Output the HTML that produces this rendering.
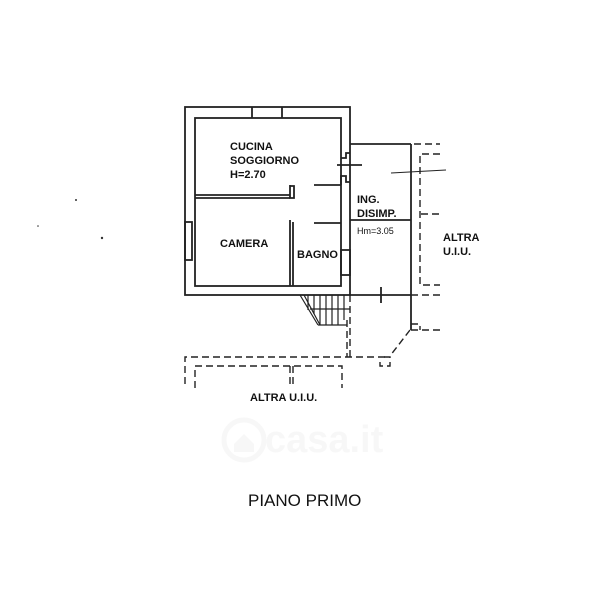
<!DOCTYPE html>
<html><head><meta charset="utf-8"><style>
html,body{margin:0;padding:0;background:#fff;}
svg{display:block}
text{font-family:"Liberation Sans",sans-serif;fill:#111}
</style></head><body>
<svg width="616" height="600" viewBox="0 0 616 600" xmlns="http://www.w3.org/2000/svg">
<rect width="616" height="600" fill="#fff"/>
<g stroke="#222" fill="none" stroke-width="1.8">
<rect x="185" y="107" width="165" height="188"/>
<rect x="195" y="118" width="146" height="168"/>
<line x1="252" y1="107" x2="252" y2="118"/><line x1="282" y1="107" x2="282" y2="118"/>
<rect x="185" y="222" width="7" height="38"/>
<rect x="341" y="250" width="9" height="25"/>
<line x1="195" y1="195" x2="290" y2="195"/><line x1="195" y1="198" x2="290" y2="198"/>
<polyline points="290,185 290,198 294,198 294,186 290,186"/>
<line x1="290" y1="220" x2="290" y2="286"/><line x1="293" y1="222" x2="293" y2="286"/>
<line x1="314" y1="185" x2="341" y2="185"/><line x1="314" y1="223" x2="341" y2="223"/>
<polyline points="341,185 341,176 346,176 346,182 350,182"/>
<polyline points="341,158 346,158 346,153 350,153"/>
<line x1="337" y1="165" x2="362" y2="165"/>
<line x1="350" y1="144" x2="411" y2="144"/>
<line x1="411" y1="144" x2="411" y2="330"/>
<line x1="350" y1="295" x2="411" y2="295"/>
<line x1="350" y1="220" x2="411" y2="220"/>
<line x1="381" y1="287" x2="381" y2="303"/>
<line x1="391" y1="173" x2="446" y2="170" stroke-width="1"/>
</g>
<g stroke="#222" fill="none" stroke-width="1.4" stroke-dasharray="7,4">
<line x1="414" y1="144" x2="440" y2="144"/>
<polyline points="440,154 420,154 420,285 440,285"/>
<line x1="421" y1="214" x2="440" y2="214"/>
<line x1="411" y1="295" x2="440" y2="295"/>
<line x1="411" y1="330" x2="440" y2="330"/>
<polyline points="411,324 420,324 420,330"/>
<line x1="410" y1="330" x2="390" y2="356"/>
<polyline points="384,357 390,357 390,366 380,366 380,360"/>
<polyline points="385,357 185,357 185,388"/>
<polyline points="195,388 195,366 342,366 342,388"/>
<line x1="290" y1="366" x2="290" y2="388"/><line x1="293" y1="366" x2="293" y2="388"/>
<line x1="350" y1="295" x2="350" y2="357"/><line x1="347" y1="320" x2="347" y2="357"/>
</g>
<g stroke="#222" stroke-width="1.2" fill="none">
<line x1="300" y1="295" x2="318" y2="325"/>
<line x1="304" y1="295" x2="320" y2="325"/>
<line x1="308" y1="295" x2="308" y2="310"/><line x1="314" y1="295" x2="314" y2="314"/>
<line x1="320" y1="295" x2="320" y2="325"/><line x1="326" y1="295" x2="326" y2="325"/>
<line x1="332" y1="295" x2="332" y2="325"/><line x1="338" y1="295" x2="338" y2="325"/>
<line x1="344" y1="295" x2="344" y2="320"/>
<line x1="310" y1="309" x2="350" y2="309"/>
<line x1="318" y1="325" x2="347" y2="325"/>
</g>
<g style="font-weight:600">
<text x="230" y="150" font-size="11">CUCINA</text>
<text x="230" y="164" font-size="11">SOGGIORNO</text>
<text x="230" y="178" font-size="11">H=2.70</text>
<text x="220" y="247" font-size="11">CAMERA</text>
<text x="297" y="258" font-size="11">BAGNO</text>
<text x="357" y="203" font-size="11">ING.</text>
<text x="357" y="217" font-size="11">DISIMP.</text>
<text x="443" y="241" font-size="11">ALTRA</text>
<text x="443" y="255" font-size="11">U.I.U.</text>
<text x="250" y="401" font-size="11">ALTRA U.I.U.</text>
</g>
<text x="357" y="234" font-size="9">Hm=3.05</text>
<g opacity="0.06">
<circle cx="244" cy="440" r="20" fill="none" stroke="#888" stroke-width="5"/>
<path d="M234 444 L244 434 L254 444 L254 452 L234 452 Z" fill="#888"/>
<text x="265" y="452" font-size="38" font-weight="bold" style="fill:#888">casa.it</text>
</g>
<text x="248" y="506" font-size="17">PIANO PRIMO</text>
<circle cx="76" cy="200" r="1" fill="#333"/>
<circle cx="102" cy="238" r="1.2" fill="#333"/>
<circle cx="38" cy="226" r="0.8" fill="#333"/>
</svg>
</body></html>
